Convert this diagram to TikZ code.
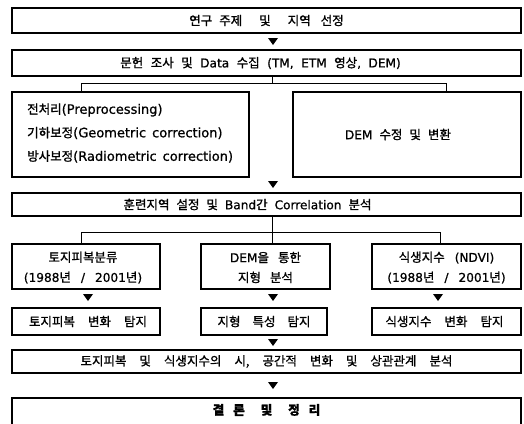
\documentclass[tikz,border=0pt]{standalone}
\usepackage{fontspec}
\setmainfont{Noto Sans CJK KR}[FakeBold=1.2]
\newfontfamily\latf{DejaVu Sans}[Scale=0.97, FakeBold=0.8]
\newcommand\la[1]{{\latf #1}}
\newcommand\tx{\fontsize{12.5}{20}\selectfont\spaceskip=7pt\relax}
\newcommand\tsp[1]{\tx\spaceskip=#1\relax}
\newcommand\lsz[1]{{\fontsize{13.4}{23.5}\selectfont\la{#1}}}
\newcommand\tthree{\fontsize{12.5}{23.5}\selectfont\spaceskip=6pt\relax}
\begin{document}
\begin{tikzpicture}[x=1pt,y=-1pt,
  box/.style={draw, line width=1.1pt, inner sep=0pt},
  lbl/.style={inner sep=0pt, align=center, font=\tx},
  conn/.style={line width=0.9pt},
  tri/.pic={\fill (-5,-3.5) -- (5,-3.5) -- (0,3.5) -- cycle;}]
\useasboundingbox (0,0) rectangle (524,423);
\clip (0,0) rectangle (524,423);
\fill[white] (0,0) rectangle (524,423);
% boxes
\node[box, minimum width=509pt, minimum height=25pt] (b1) at (266.5,20.5) {};
\node[lbl] (t1) at (b1) {연구 주제\hspace{17pt}및\hspace{17pt}지역\hspace{10pt}선정};
\node[box, minimum width=509pt, minimum height=26pt] (b2) at (266.5,63) {};
\node[lbl, font={\tsp{7.5pt}}] (t2) at ([xshift=-6pt]b2.center) {문헌 조사 및 \la{Data} 수집 \la{(TM, ETM} 영상\la{, DEM)}};
\node[box, minimum width=237pt, minimum height=85pt] (b3) at (130.5,134.5) {};
\node[lbl, align=left, anchor=west, font=\tthree] (t3) at (27,133)
  {전처리\lsz{(Preprocessing)}\\
   기하보정\lsz{(Geometric correction)}\\
   방사보정\lsz{(Radiometric correction)}};
\node[box, minimum width=228pt, minimum height=85pt] (b4) at (407,134.5) {};
\node[lbl, font={\tsp{7pt}}] (t4) at ([xshift=-9pt]b4.center) {\la{DEM} 수정 및 변환};
\node[box, minimum width=509pt, minimum height=23pt] (b5) at (266.5,204.5) {};
\node[lbl, font={\tsp{7pt}}] (t5) at ([xshift=-19pt]b5.center) {훈련지역 설정 및 \la{Band}간 \la{Correlation} 분석};
\node[box, minimum width=148pt, minimum height=45pt] (r1) at (86,266.5) {};
\node[lbl, font={\tsp{10pt}}] (tr1) at ([xshift=-3pt,yshift=-1pt]r1.center) {토지피복분류\\\la{(1988}년 \la{/ 2001}년\la{)}};
\node[box, minimum width=129pt, minimum height=45pt] (r2) at (265.5,266.5) {};
\node[lbl, font={\tsp{9pt}}] (tr2) at ([yshift=-1pt]r2.center) {\la{DEM}을 통한\\지형 분석};
\node[box, minimum width=149pt, minimum height=45pt] (r3) at (446.5,266.5) {};
\node[lbl, font={\tsp{10pt}}] (tr3) at ([yshift=-1pt]r3.center) {식생지수 \la{(NDVI)}\\\la{(1988}년 \la{/ 2001}년\la{)}};
\node[box, minimum width=148pt, minimum height=27pt] (s1) at (86,321.5) {};
\node[lbl, font={\tsp{13pt}}] (ts1) at ([xshift=2pt]s1.center) {토지피복 변화 탐지};
\node[box, minimum width=126pt, minimum height=27pt] (s2) at (264,321.5) {};
\node[lbl, font={\tsp{12pt}}] (ts2) at (s2) {지형 특성 탐지};
\node[box, minimum width=149pt, minimum height=27pt] (s3) at (446.5,321.5) {};
\node[lbl, font={\tsp{13pt}}] (ts3) at ([xshift=-2pt]s3.center) {식생지수 변화 탐지};
\node[box, minimum width=509pt, minimum height=23pt] (b7) at (266.5,361.5) {};
\node[lbl, font={\tsp{13pt}}] (t7) at (b7) {토지피복 및 식생지수의 시, 공간적 변화 및 상관관계 분석};
\node[box, minimum width=509pt, minimum height=52pt] (b8) at (266.5,424) {};
\node[lbl, font={\tsp{9pt}\bfseries}] (t8) at (266.5,410) {결 론\hspace{16pt}및\hspace{16pt}정 리};
% connectors
\coordinate (j1) at (272,83); \coordinate (j1l) at (81,83); \coordinate (j1r) at (446,83);
\draw[conn] (b2.south -| j1) -- (j1);
\draw[conn] (b3.north -| j1l) -- (j1l) -- (j1r) -- (b4.north -| j1r);
\coordinate (j2) at (272,232); \coordinate (j2l) at (81,232); \coordinate (j2r) at (440,232);
\draw[conn] (b5.south -| j2) -- (j2);
\draw[conn] (r1.north -| j2l) -- (j2l) -- (j2r) -- (r3.north -| j2r);
\draw[conn] (j2) -- (r2.north -| j2);
% arrowheads
\pic at (273,41.5) {tri};
\pic at (273,184.5) {tri};
\pic at (88,297.5) {tri};
\pic at (273,297.5) {tri};
\pic at (438,297.5) {tri};
\pic at (273,342.5) {tri};
\pic at (273,385.5) {tri};
\end{tikzpicture}
\end{document}
